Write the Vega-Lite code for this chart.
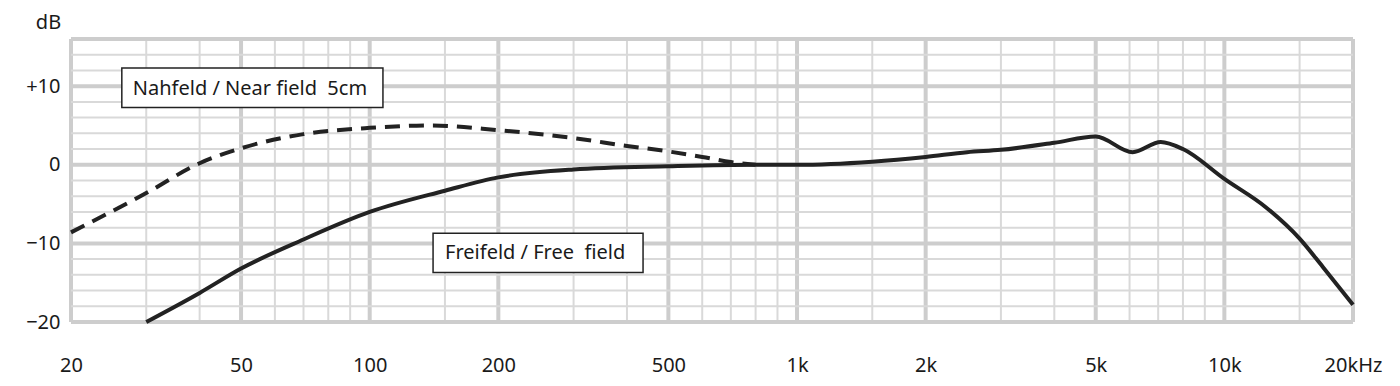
{
  "$schema": "https://vega.github.io/schema/vega-lite/v6.json",
  "width": 1282,
  "height": 283,
  "autosize": "none",
  "padding": {"left": 71, "top": 39, "right": 47, "bottom": 64},
  "background": "white",
  "config": {
    "view": {"stroke": null},
    "font": "Noto Sans",
    "axis": {"grid": false, "domain": false, "ticks": false, "labelFont": "Noto Sans", "labelFontSize": 20, "labelColor": "#1a1a1a"}
  },
  "datasets": {
    "vgrid": [
      {"f": 20, "major": "yes"}, {"f": 30, "major": "no"}, {"f": 40, "major": "no"},
      {"f": 50, "major": "yes"}, {"f": 60, "major": "no"}, {"f": 70, "major": "no"}, {"f": 80, "major": "no"}, {"f": 90, "major": "no"},
      {"f": 100, "major": "yes"}, {"f": 150, "major": "no"},
      {"f": 200, "major": "yes"}, {"f": 300, "major": "no"}, {"f": 400, "major": "no"},
      {"f": 500, "major": "yes"}, {"f": 600, "major": "no"}, {"f": 700, "major": "no"}, {"f": 800, "major": "no"}, {"f": 900, "major": "no"},
      {"f": 1000, "major": "yes"}, {"f": 1500, "major": "no"},
      {"f": 2000, "major": "yes"}, {"f": 3000, "major": "no"}, {"f": 4000, "major": "no"},
      {"f": 5000, "major": "yes"}, {"f": 6000, "major": "no"}, {"f": 7000, "major": "no"}, {"f": 8000, "major": "no"}, {"f": 9000, "major": "no"},
      {"f": 10000, "major": "yes"}, {"f": 15000, "major": "no"},
      {"f": 20000, "major": "yes"}
    ],
    "hgrid": [
      {"db": -20, "major": "yes"}, {"db": -18, "major": "no"}, {"db": -16, "major": "no"}, {"db": -14, "major": "no"}, {"db": -12, "major": "no"},
      {"db": -10, "major": "yes"}, {"db": -8, "major": "no"}, {"db": -6, "major": "no"}, {"db": -4, "major": "no"}, {"db": -2, "major": "no"},
      {"db": 0, "major": "yes"}, {"db": 2, "major": "no"}, {"db": 4, "major": "no"}, {"db": 6, "major": "no"}, {"db": 8, "major": "no"},
      {"db": 10, "major": "yes"}, {"db": 12, "major": "no"}, {"db": 14, "major": "no"}, {"db": 16, "major": "yes"}
    ],
    "curves": [
      {"series": "free", "f": 30, "db": -20},
      {"series": "free", "f": 40, "db": -16.3},
      {"series": "free", "f": 50, "db": -13.2},
      {"series": "free", "f": 70, "db": -9.5},
      {"series": "free", "f": 100, "db": -6.0},
      {"series": "free", "f": 150, "db": -3.3},
      {"series": "free", "f": 200, "db": -1.6},
      {"series": "free", "f": 300, "db": -0.6},
      {"series": "free", "f": 500, "db": -0.2},
      {"series": "free", "f": 800, "db": 0},
      {"series": "free", "f": 1000, "db": 0},
      {"series": "free", "f": 1500, "db": 0.4},
      {"series": "free", "f": 2000, "db": 1.0},
      {"series": "free", "f": 2500, "db": 1.6},
      {"series": "free", "f": 3000, "db": 1.9},
      {"series": "free", "f": 4000, "db": 2.8},
      {"series": "free", "f": 5000, "db": 3.6},
      {"series": "free", "f": 6100, "db": 1.6},
      {"series": "free", "f": 7100, "db": 2.9},
      {"series": "free", "f": 8000, "db": 2.0},
      {"series": "free", "f": 10000, "db": -1.8},
      {"series": "free", "f": 12500, "db": -5.4},
      {"series": "free", "f": 15000, "db": -9.4},
      {"series": "free", "f": 17000, "db": -13.0},
      {"series": "free", "f": 20000, "db": -17.8},
      {"series": "near", "f": 20, "db": -8.6},
      {"series": "near", "f": 30, "db": -3.6},
      {"series": "near", "f": 40, "db": 0.2},
      {"series": "near", "f": 50, "db": 2.1},
      {"series": "near", "f": 70, "db": 3.9},
      {"series": "near", "f": 100, "db": 4.7},
      {"series": "near", "f": 140, "db": 5.0},
      {"series": "near", "f": 200, "db": 4.4},
      {"series": "near", "f": 300, "db": 3.4},
      {"series": "near", "f": 400, "db": 2.4},
      {"series": "near", "f": 500, "db": 1.7},
      {"series": "near", "f": 600, "db": 1.0},
      {"series": "near", "f": 700, "db": 0.35},
      {"series": "near", "f": 800, "db": 0}
    ],
    "boxes": [
      {"f1": 26.3, "f2": 107.4, "y1": 7.3, "y2": 12.3, "tf": 27.9, "ty": 9.7, "label": "Nahfeld / Near field\u00a0\u00a05cm"},
      {"f1": 140.7, "f2": 436.2, "y1": -13.7, "y2": -8.7, "tf": 150.1, "ty": -11.2, "label": "Freifeld / Free\u00a0\u00a0field"}
    ]
  },
  "layer": [
    {
      "data": {"name": "vgrid"},
      "mark": {"type": "rule"},
      "encoding": {
        "x": {"field": "f", "type": "quantitative", "scale": {"type": "log", "domain": [20, 20000], "nice": false},
              "axis": {"values": [20, 50, 100, 200, 500, 1000, 2000, 5000, 10000, 20000], "title": null, "labelPadding": 33, "labelFlush": false, "labelOverlap": false,
                       "labelExpr": "datum.value == 20000 ? '20kHz' : (datum.value >= 1000 ? (datum.value / 1000) + 'k' : '' + datum.value)"}},
        "color": {"field": "major", "type": "nominal", "scale": {"domain": ["yes", "no"], "range": ["#cdcdcd", "#d9d9d9"]}, "legend": null},
        "strokeWidth": {"field": "major", "type": "nominal", "scale": {"domain": ["yes", "no"], "range": [4, 2]}, "legend": null}
      }
    },
    {
      "data": {"name": "hgrid"},
      "mark": {"type": "rule"},
      "encoding": {
        "y": {"field": "db", "type": "quantitative", "scale": {"domain": [-20, 16], "nice": false, "zero": false},
              "axis": {"values": [-20, -10, 0, 10], "title": "dB", "titleAngle": 0, "titleX": -23, "titleY": -17, "titleAlign": "center", "titleBaseline": "middle",
                       "titleFont": "Noto Sans", "titleFontSize": 20, "titleFontWeight": "normal", "titleColor": "#1a1a1a", "labelPadding": 11, "labelFlush": false,
                       "labelExpr": "datum.value > 0 ? '+' + datum.value : (datum.value < 0 ? '\u2212' + (-datum.value) : '0')"}},
        "color": {"field": "major", "type": "nominal", "scale": {"domain": ["yes", "no"], "range": ["#cdcdcd", "#d9d9d9"]}, "legend": null},
        "strokeWidth": {"field": "major", "type": "nominal", "scale": {"domain": ["yes", "no"], "range": [4, 2]}, "legend": null}
      }
    },
    {
      "data": {"name": "curves"},
      "transform": [{"filter": "datum.series == 'near'"}],
      "mark": {"type": "line", "interpolate": "monotone", "color": "#222222", "strokeWidth": 4, "strokeDash": [15, 9]},
      "encoding": {
        "x": {"field": "f", "type": "quantitative"},
        "y": {"field": "db", "type": "quantitative"}
      }
    },
    {
      "data": {"name": "curves"},
      "transform": [{"filter": "datum.series == 'free'"}],
      "mark": {"type": "line", "interpolate": "monotone", "color": "#222222", "strokeWidth": 4},
      "encoding": {
        "x": {"field": "f", "type": "quantitative"},
        "y": {"field": "db", "type": "quantitative"}
      }
    },
    {
      "data": {"name": "boxes"},
      "mark": {"type": "rect", "fill": "white", "stroke": "#222222", "strokeWidth": 1.5},
      "encoding": {
        "x": {"field": "f1", "type": "quantitative"},
        "x2": {"field": "f2"},
        "y": {"field": "y1", "type": "quantitative"},
        "y2": {"field": "y2"}
      }
    },
    {
      "data": {"name": "boxes"},
      "mark": {"type": "text", "align": "left", "baseline": "middle", "font": "Noto Sans", "fontSize": 20, "color": "#1a1a1a"},
      "encoding": {
        "x": {"field": "tf", "type": "quantitative"},
        "y": {"field": "ty", "type": "quantitative"},
        "text": {"field": "label"}
      }
    }
  ]
}
